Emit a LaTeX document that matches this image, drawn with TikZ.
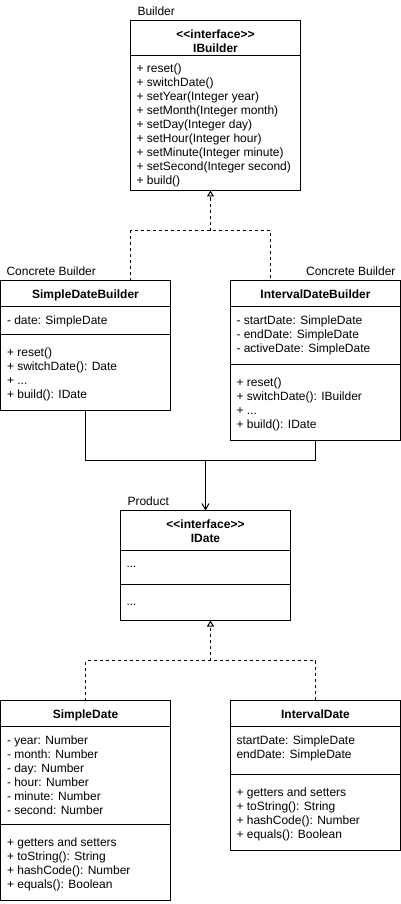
\documentclass[tikz,border=0pt]{standalone}
\usepackage{fontspec}
\setmainfont{Liberation Sans}
\usetikzlibrary{arrows.meta,positioning}

\begin{document}
\begin{tikzpicture}[
    x=1pt, y=-1pt,
    line width=1pt,
    every node/.style={inner sep=0pt, outer sep=0pt, font=\fontsize{12}{14}\selectfont},
    classbox/.style={draw, rectangle, anchor=north west, minimum width=170},
    classname/.style={anchor=base, align=center, font=\fontsize{12}{14}\selectfont\bfseries},
    member/.style={anchor=base west, align=left},
    role/.style={anchor=base west},
    realize/.style={dash pattern=on 3pt off 3pt},
    realtip/.style={-{Triangle[open, width=7pt, length=6pt]}},
    uses/.style={-{Straight Barb[width=7pt, length=6pt]}}
  ]
\useasboundingbox (-0.5,-0.5) rectangle (400.5,903.5);

% Builder interface (text nodes sit on the baseline of their last line)
\node[classbox, minimum height=170] (ibuilder) at (130,20) {};
\draw ([yshift=-35pt]ibuilder.north west) -- ([yshift=-35pt]ibuilder.north east);
\node[role] (builderrole) at ([xshift=7pt, yshift=4.5pt]ibuilder.north west) {Builder};
\node[classname] (ibuildername) at ([yshift=-32pt]ibuilder.north) {{<}{<}interface{>}{>}\\IBuilder};
\node[member] (ibuildermethods) at ([xshift=6pt, yshift=-164pt]ibuilder.north west)
  {+ reset()\\+ switchDate()\\+ setYear(Integer year)\\+ setMonth(Integer month)\\+ setDay(Integer day)\\+ setHour(Integer hour)\\+ setMinute(Integer minute)\\+ setSecond(Integer second)\\+ build()};

% Concrete builders
\node[classbox, minimum height=130] (sdb) at (0,280) {};
\draw ([yshift=-26pt]sdb.north west) -- ([yshift=-26pt]sdb.north east);
\draw ([yshift=-54pt]sdb.north west) -- ([yshift=-54pt]sdb.north east);
\node[role] (sdbrole) at ([xshift=6pt, yshift=5pt]sdb.north west) {Concrete Builder};
\node[classname] (sdbname) at ([yshift=-17.5pt]sdb.north) {SimpleDateBuilder};
\node[member] (sdbattrs) at ([xshift=6.5pt, yshift=-43.5pt]sdb.north west) {- date: SimpleDate};
\node[member] (sdbmethods) at ([xshift=6.5pt, yshift=-118pt]sdb.north west)
  {+ reset()\\+ switchDate(): Date\\+ ...\\+ build(): IDate};

\node[classbox, minimum height=160] (idb) at (230,280) {};
\draw ([yshift=-26pt]idb.north west) -- ([yshift=-26pt]idb.north east);
\draw ([yshift=-84pt]idb.north west) -- ([yshift=-84pt]idb.north east);
\node[role, anchor=base east] (idbrole) at ([xshift=-5pt, yshift=5pt]idb.north east) {Concrete Builder};
\node[classname] (idbname) at ([yshift=-17.5pt]idb.north) {IntervalDateBuilder};
\node[member] (idbattrs) at ([xshift=6pt, yshift=-71.5pt]idb.north west)
  {- startDate: SimpleDate\\- endDate: SimpleDate\\- activeDate: SimpleDate};
\node[member] (idbmethods) at ([xshift=6pt, yshift=-148pt]idb.north west)
  {+ reset()\\+ switchDate(): IBuilder\\+ ...\\+ build(): IDate};

% Product interface
\node[classbox, minimum height=110] (idate) at (120,510) {};
\draw ([yshift=-40pt]idate.north west) -- ([yshift=-40pt]idate.north east);
\draw ([yshift=-74pt]idate.north west) -- ([yshift=-74pt]idate.north east);
\node[role] (productrole) at ([xshift=7pt, yshift=5pt]idate.north west) {Product};
\node[classname] (idatename) at ([yshift=-31.7pt]idate.north) {{<}{<}interface{>}{>}\\IDate};
\node[member] (idateattrs) at ([xshift=6pt, yshift=-57pt]idate.north west) {...};
\node[member] (idatemethods) at ([xshift=6pt, yshift=-95pt]idate.north west) {...};

% Concrete products
\node[classbox, minimum height=200] (sd) at (0,700) {};
\draw ([yshift=-26pt]sd.north west) -- ([yshift=-26pt]sd.north east);
\draw ([yshift=-124pt]sd.north west) -- ([yshift=-124pt]sd.north east);
\node[classname] (sdname) at ([yshift=-18.3pt]sd.north) {SimpleDate};
\node[member] (sdattrs) at ([xshift=6.5pt, yshift=-114pt]sd.north west)
  {- year: Number\\- month: Number\\- day: Number\\- hour: Number\\- minute: Number\\- second: Number};
\node[member] (sdmethods) at ([xshift=6.5pt, yshift=-188pt]sd.north west)
  {+ getters and setters\\+ toString(): String\\+ hashCode(): Number\\+ equals(): Boolean};

\node[classbox, minimum height=150] (intd) at (230,700) {};
\draw ([yshift=-26pt]intd.north west) -- ([yshift=-26pt]intd.north east);
\draw ([yshift=-74pt]intd.north west) -- ([yshift=-74pt]intd.north east);
\node[classname] (intdname) at ([yshift=-18.3pt]intd.north) {IntervalDate};
\node[member] (intdattrs) at ([xshift=6pt, yshift=-58pt]intd.north west)
  {startDate: SimpleDate\\endDate: SimpleDate};
\node[member] (intdmethods) at ([xshift=6pt, yshift=-137.7pt]intd.north west)
  {+ getters and setters\\+ toString(): String\\+ hashCode(): Number\\+ equals(): Boolean};

% Connectors
\coordinate (bjoin) at (210,230);
\coordinate (pjoin) at (205,460);
\coordinate (djoin) at (210,660);

\draw[realize] ([xshift=-40pt]sdb.north east) |- (bjoin) -| ([xshift=40pt]idb.north west);
\draw[realize, realtip] (bjoin) -- (bjoin |- ibuilder.south);

\draw (sdb.south) |- (pjoin) -| (idb.south);
\draw[uses] (pjoin) -- (pjoin |- idate.north);

\draw[realize] (sd.north) |- (djoin) -| (intd.north);
\draw[realize, realtip] (djoin) -- (djoin |- idate.south);

\end{tikzpicture}
\end{document}
